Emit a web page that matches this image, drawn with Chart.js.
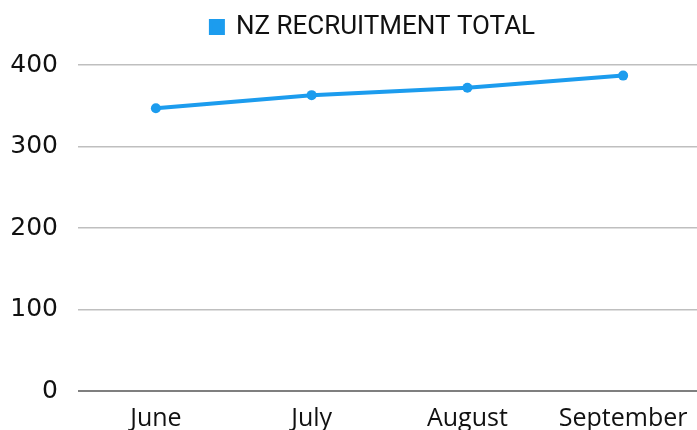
<!DOCTYPE html>
<html>
<head>
<meta charset="utf-8">
<script src="https://cdn.jsdelivr.net/npm/chart.js@4.4.1/dist/chart.umd.min.js"></script>
<style>
  html, body { margin: 0; padding: 0; background: #fff; overflow: hidden; }
  #wrap { width: 697px; height: 430px; overflow: hidden; }
  canvas { display: block; }
</style>
</head>
<body>
<div id="wrap"><canvas id="chart" width="706" height="430"></canvas></div>
<script>
// --- Data ---
const months = ['June', 'July', 'August', 'September'];
const recruitmentTotal = [347, 363, 372, 387];
const yTicks = [0, 100, 200, 300, 400];

const seriesLabel = 'NZ RECRUITMENT TOTAL';
const lineColor = '#1C9CEE';

// legend placement tweaks (to sit where the original has it)
const legendShift = 20;
const legendHeight = 65;
const legendNudge = {
    id: 'legendNudge',
    beforeLayout(chart) {
        const lg = chart.legend;
        if (lg && !lg._patched) {
            const fit = lg.fit;
            lg.fit = function () { fit.call(this); this.height = legendHeight; };
            lg._patched = true;
        }
    },
    afterLayout(chart) {
        if (chart.legend) {
            chart.legend.left += legendShift;
            chart.legend.right += legendShift;
        }
    }
};

new Chart(document.getElementById('chart'), {
    type: 'line',
    data: {
        labels: months,
        datasets: [{
            label: seriesLabel,
            data: recruitmentTotal,
            borderColor: lineColor,
            backgroundColor: lineColor,
            borderWidth: 4,
            pointRadius: 5,
            pointHoverRadius: 5,
            pointBackgroundColor: lineColor,
            pointBorderWidth: 0,
            tension: 0
        }]
    },
    options: {
        responsive: false,
        animation: false,
        layout: { padding: 0 },
        plugins: {
            legend: {
                position: 'top',
                labels: {
                    boxWidth: 12,
                    boxHeight: 12,
                    padding: 14,
                    color: '#111',
                    font: { family: 'Roboto', size: 26 }
                }
            },
            tooltip: { enabled: false }
        },
        scales: {
            x: {
                offset: true,
                grid: { display: false, drawTicks: false },
                border: { display: false },
                ticks: { color: '#111', font: { family: 'Open Sans', size: 25 }, padding: 13, maxRotation: 0, autoSkip: false },
                afterFit(scale) { scale.height = 39; }
            },
            y: {
                min: 0,
                max: 400,
                afterBuildTicks(scale) { scale.ticks = yTicks.map(v => ({ value: v })); },
                grid: {
                    drawTicks: false,
                    color: ctx => ctx.tick && ctx.tick.value === 0 ? '#7F7F7F' : '#BFBFBF',
                    lineWidth: ctx => ctx.tick && ctx.tick.value === 0 ? 2 : 1.5
                },
                border: { display: false },
                ticks: { color: '#111', font: { family: 'DejaVu Sans', size: 25 }, padding: 20 },
                afterFit(scale) { scale.width = 78; }
            }
        }
    },
    plugins: [legendNudge]
});
</script>
</body>
</html>
